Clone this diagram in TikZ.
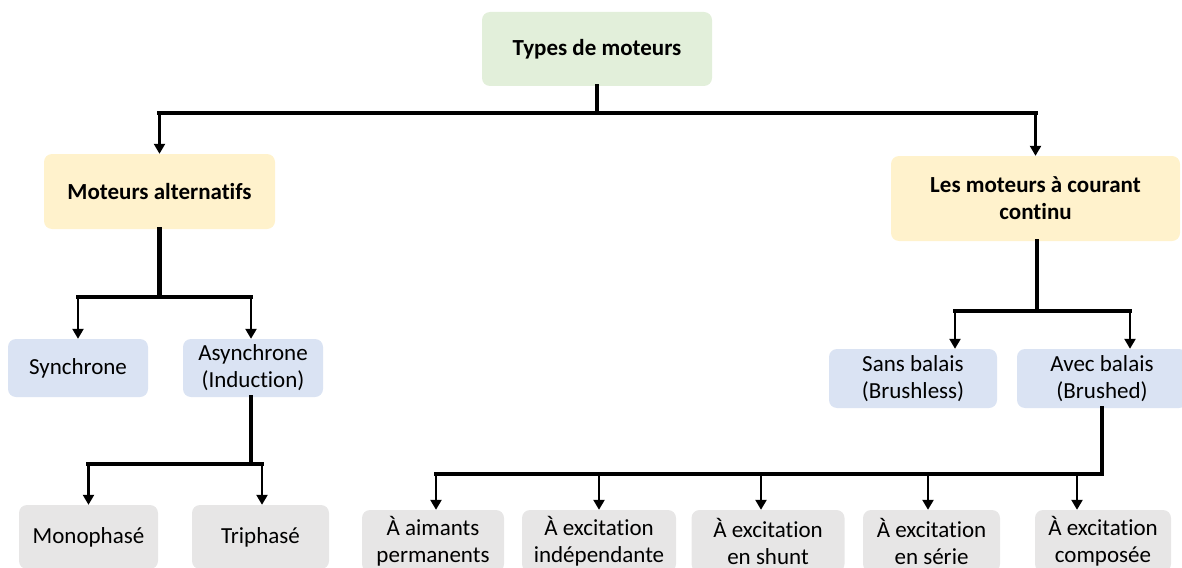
\documentclass[tikz,border=0pt]{standalone}
\usepackage{fontspec}
\setmainfont{Carlito}[Ligatures={NoCommon}]
\usetikzlibrary{arrows.meta}
\definecolor{cgreen}{HTML}{E2EFDA}
\definecolor{cyellow}{HTML}{FFF2CC}
\definecolor{cblue}{HTML}{DAE3F3}
\definecolor{cgray}{HTML}{E7E6E6}
\tikzset{
  box/.style={rounded corners=8pt, inner sep=0pt, align=center, draw=none,
    font=\fontsize{23}{27}\selectfont},
  rootbox/.style={box, fill=cgreen, font=\fontsize{23}{27}\selectfont\bfseries},
  mainbox/.style={box, fill=cyellow, font=\fontsize{23}{27}\selectfont\bfseries},
  subbox/.style={box, fill=cblue},
  leafbox/.style={box, fill=cgray},
  bar/.style={line width=4.6pt, line cap=rect, line join=miter},
  arr/.style={line width=2.3pt, -{Triangle[length=10pt,width=11pt]}}
}
\begin{document}
\begin{tikzpicture}[x=1pt,y=-1pt]
\useasboundingbox (0,0) rectangle (1182,567);
\clip (0,0) rectangle (1182,567);

% nodes
\node[rootbox, minimum width=230pt, minimum height=74pt] (root) at (597,49) {Types de moteurs};
\node[mainbox, minimum width=231pt, minimum height=75pt] (alt) at (159.5,191.5) {Moteurs alternatifs};
\node[mainbox, minimum width=289pt, minimum height=85pt] (dc) at (1035.5,198.5) {Les moteurs à courant\\continu};

\node[subbox, minimum width=140pt, minimum height=58pt] (sync) at (78,368) {Synchrone};
\node[subbox, minimum width=140pt, minimum height=58pt] (async) at (253,368) {Asynchrone\\(Induction)};
\node[subbox, minimum width=168pt, minimum height=59pt] (sans) at (913,378.5) {Sans balais\\(Brushless)};
\node[subbox, minimum width=170pt, minimum height=59pt] (avec) at (1102,378.5) {Avec balais\\(Brushed)};

\node[leafbox, minimum width=139pt, minimum height=64pt] (mono) at (88.5,537) {Monophasé};
\node[leafbox, minimum width=137pt, minimum height=64pt] (tri) at (260.5,537) {Triphasé};

\node[leafbox, minimum width=142pt, minimum height=62pt] (aim) at (433,541) {À aimants\\permanents};
\node[leafbox, minimum width=154pt, minimum height=62pt] (ind) at (599,541) {À excitation\\indépendante};
\node[leafbox, minimum width=153pt, minimum height=62pt] (shunt) at (768,541) {À excitation\\en shunt};
\node[leafbox, minimum width=137pt, minimum height=62pt] (serie) at (931.5,541) {À excitation\\en série};
\node[leafbox, minimum width=136pt, minimum height=62pt] (comp) at (1103,541) {À excitation\\composée};

% bar levels
\coordinate (b1) at (0,113);
\coordinate (b2) at (0,297);
\coordinate (b3) at (0,464);
\coordinate (b4) at (0,311);
\coordinate (b5) at (0,474);

% root -> alt / dc
\draw[bar] (root.south) -- (root.south |- b1);
\draw[bar] (alt.north |- b1) -- (dc.north |- b1);
\draw[arr] (alt.north |- b1) -- (alt.north);
\draw[arr] (dc.north |- b1) -- (dc.north);

% alt -> sync / async
\draw[bar] (alt.south) -- (alt.south |- b2);
\draw[bar] (sync.north |- b2) -- ([xshift=-2pt]async.north |- b2);
\draw[arr] (sync.north |- b2) -- (sync.north);
\draw[arr] ([xshift=-2pt]async.north |- b2) -- ([xshift=-2pt]async.north);

% async -> mono / tri
\draw[bar] ([xshift=-2pt]async.south) -- ([xshift=-2pt]async.south |- b3);
\draw[bar] (mono.north |- b3) -- ([xshift=1.5pt]tri.north |- b3);
\draw[arr] (mono.north |- b3) -- (mono.north);
\draw[arr] ([xshift=1.5pt]tri.north |- b3) -- ([xshift=1.5pt]tri.north);

% dc -> sans / avec
\draw[bar] ([xshift=1.5pt]dc.south) -- ([xshift=1.5pt]dc.south |- b4);
\draw[bar] ([xshift=42pt]sans.north |- b4) -- ([xshift=28pt]avec.north |- b4);
\draw[arr] ([xshift=42pt]sans.north |- b4) -- ([xshift=42pt]sans.north);
\draw[arr] ([xshift=28pt]avec.north |- b4) -- ([xshift=28pt]avec.north);

% avec -> five leaves
\draw[bar] (avec.south) |- ([xshift=3pt]aim.north |- b5);
\draw[arr] ([xshift=3pt]aim.north |- b5) -- ([xshift=3pt]aim.north);
\draw[arr] (ind.north |- b5) -- (ind.north);
\draw[arr] ([xshift=-7pt]shunt.north |- b5) -- ([xshift=-7pt]shunt.north);
\draw[arr] ([xshift=-3.5pt]serie.north |- b5) -- ([xshift=-3.5pt]serie.north);
\draw[arr] ([xshift=-26pt]comp.north |- b5) -- ([xshift=-26pt]comp.north);
\end{tikzpicture}
\end{document}
